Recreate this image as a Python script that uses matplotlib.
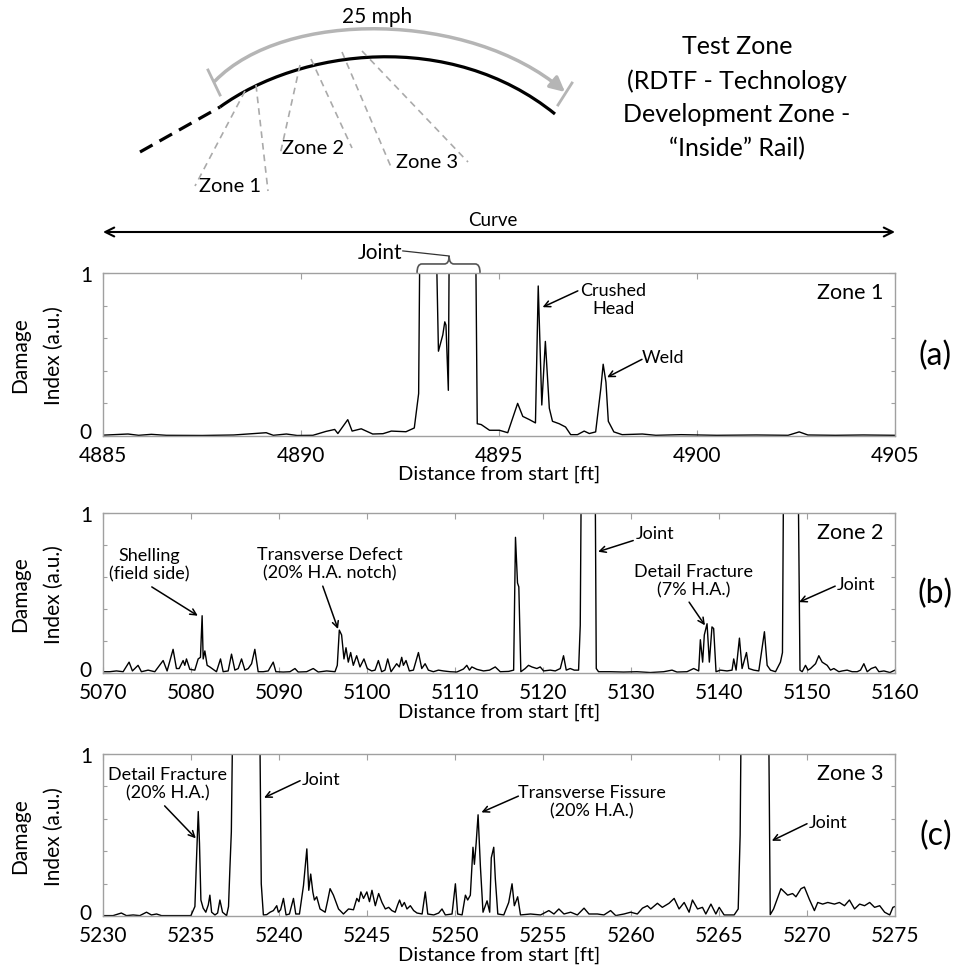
import numpy as np
import matplotlib.pyplot as plt
from matplotlib.path import Path
from matplotlib.patches import PathPatch, FancyArrowPatch
from matplotlib.transforms import blended_transform_factory, ScaledTranslation

plt.rcParams['font.family'] = ['Lato', 'DejaVu Sans']

# ---- damage index traces (1.5 = off scale at the joints) ----
z1_x = [4885.0, 4885.63, 4885.9, 4886.22, 4886.6, 4887.5, 4888.3, 4889.12, 4889.3, 4889.63,
        4889.9, 4890.3, 4890.63, 4890.85, 4890.93, 4891.18, 4891.29, 4891.52, 4891.81, 4892.07,
        4892.28, 4892.65, 4892.86, 4892.97, 4893.01, 4893.39, 4893.47, 4893.58, 4893.63, 4893.66,
        4893.72, 4893.75, 4894.40, 4894.45, 4894.55, 4894.76, 4895.01, 4895.22, 4895.47, 4895.60,
        4895.77, 4895.92, 4895.99, 4896.08, 4896.17, 4896.27, 4896.35, 4896.52, 4896.68, 4896.81,
        4896.98, 4897.15, 4897.28, 4897.44, 4897.57, 4897.63, 4897.70, 4897.76, 4897.90, 4898.11,
        4898.62, 4898.96, 4899.6, 4900.5, 4901.5, 4902.3, 4902.58, 4902.8, 4903.5, 4904.2, 4905.0]
z1_y = [0.005, 0.012, 0.004, 0.010, 0.004, 0.003, 0.006, 0.020, 0.004, 0.012,
        0.003, 0.004, 0.028, 0.040, 0.015, 0.100, 0.030, 0.044, 0.012, 0.014,
        0.030, 0.026, 0.049, 0.260, 1.5, 1.5, 0.520, 0.620, 0.700, 0.680,
        0.280, 1.5, 1.5, 0.075, 0.070, 0.035, 0.035, 0.020, 0.200, 0.120,
        0.100, 0.080, 0.920, 0.190, 0.580, 0.170, 0.090, 0.075, 0.055, 0.008,
        0.008, 0.030, 0.015, 0.025, 0.290, 0.440, 0.330, 0.090, 0.025, 0.008,
        0.012, 0.004, 0.008, 0.004, 0.006, 0.004, 0.025, 0.006, 0.004, 0.006, 0.004]

z2_x = [5070.0, 5070.76, 5071.52, 5072.28, 5072.96, 5073.34, 5073.98, 5074.36, 5075.12, 5075.88,
        5076.83, 5077.28, 5077.96, 5078.34, 5078.65, 5079.10, 5079.29, 5079.48, 5079.86, 5080.43,
        5080.81, 5081.07, 5081.26, 5081.38, 5081.57, 5081.83, 5082.13, 5082.51, 5082.89, 5083.35,
        5083.65, 5084.22, 5084.60, 5084.98, 5085.36, 5085.74, 5086.12, 5086.50, 5086.88, 5087.25,
        5087.63, 5088.20, 5088.77, 5089.34, 5089.64, 5090.48, 5091.24, 5091.81, 5092.18, 5093.13,
        5093.89, 5094.46, 5095.41, 5096.36, 5096.62, 5096.85, 5097.11, 5097.38, 5097.61, 5097.87,
        5098.14, 5098.44, 5098.82, 5099.20, 5099.65, 5100.03, 5100.53, 5100.91, 5101.29, 5101.66,
        5102.04, 5102.35, 5102.73, 5103.37, 5103.67, 5103.94, 5104.13, 5104.43, 5104.81, 5105.27,
        5105.84, 5106.22, 5106.60, 5106.97, 5107.54, 5108.11, 5108.68, 5109.44, 5110.20, 5110.96,
        5111.34, 5111.64, 5111.91, 5112.48, 5113.24, 5113.92, 5114.57, 5115.14, 5116.09, 5116.66,
        5116.87, 5117.10, 5117.25, 5117.48, 5117.97, 5118.35, 5118.73, 5119.30, 5119.68, 5120.06,
        5120.82, 5121.39, 5121.96, 5122.33, 5122.64, 5123.09, 5123.55, 5124.04, 5124.23, 5124.38,
        5125.90, 5126.05, 5126.31, 5127.64, 5129.16, 5130.67, 5132.19, 5133.71, 5134.66, 5135.22,
        5136.36, 5137.12, 5137.69, 5137.88, 5138.14, 5138.33, 5138.64, 5138.90, 5139.20, 5139.39,
        5139.66, 5140.15, 5140.91, 5141.48, 5141.67, 5141.94, 5142.32, 5142.62, 5143.12, 5143.38,
        5143.95, 5144.52, 5145.16, 5145.47, 5145.85, 5146.42, 5146.98, 5147.21, 5147.36, 5148.95,
        5149.20, 5149.45, 5149.83, 5150.10, 5150.40, 5150.97, 5151.34, 5151.72, 5152.29, 5152.67,
        5153.05, 5153.62, 5154.00, 5154.56, 5155.13, 5155.70, 5156.08, 5156.46, 5156.84, 5157.30,
        5157.79, 5158.17, 5158.74, 5159.42, 5160.0]
z2_y = [0.010, 0.010, 0.015, 0.010, 0.070, 0.015, 0.050, 0.010, 0.020, 0.010,
        0.080, 0.015, 0.150, 0.030, 0.030, 0.080, 0.050, 0.090, 0.025, 0.020,
        0.090, 0.100, 0.360, 0.090, 0.140, 0.050, 0.040, 0.025, 0.010, 0.090,
        0.010, 0.015, 0.120, 0.020, 0.030, 0.090, 0.020, 0.030, 0.060, 0.150,
        0.010, 0.010, 0.015, 0.070, 0.010, 0.008, 0.010, 0.030, 0.008, 0.010,
        0.030, 0.008, 0.015, 0.010, 0.050, 0.270, 0.240, 0.090, 0.160, 0.070,
        0.130, 0.050, 0.110, 0.040, 0.090, 0.030, 0.015, 0.020, 0.080, 0.010,
        0.020, 0.090, 0.010, 0.060, 0.040, 0.100, 0.050, 0.080, 0.015, 0.020,
        0.130, 0.030, 0.060, 0.020, 0.010, 0.020, 0.015, 0.010, 0.008, 0.027,
        0.050, 0.020, 0.040, 0.025, 0.015, 0.020, 0.040, 0.010, 0.012, 0.020,
        0.850, 0.565, 0.540, 0.010, 0.030, 0.050, 0.040, 0.030, 0.040, 0.015,
        0.020, 0.015, 0.030, 0.110, 0.020, 0.030, 0.020, 0.020, 0.300, 1.5,
        1.5, 0.030, 0.010, 0.010, 0.008, 0.010, 0.005, 0.010, 0.020, 0.008,
        0.010, 0.030, 0.015, 0.210, 0.070, 0.240, 0.310, 0.070, 0.290, 0.280,
        0.010, 0.020, 0.015, 0.020, 0.090, 0.020, 0.220, 0.030, 0.130, 0.030,
        0.020, 0.015, 0.260, 0.050, 0.020, 0.010, 0.070, 0.130, 1.5, 1.5,
        0.020, 0.010, 0.050, 0.020, 0.030, 0.060, 0.110, 0.070, 0.050, 0.020,
        0.030, 0.010, 0.015, 0.020, 0.010, 0.010, 0.020, 0.060, 0.010, 0.030,
        0.040, 0.010, 0.015, 0.005, 0.020]

z3_x = [5230.0, 5230.57, 5231.04, 5231.33, 5231.71, 5232.09, 5232.47, 5232.75, 5233.04, 5233.32,
        5233.80, 5234.36, 5234.99, 5235.22, 5235.31, 5235.41, 5235.48, 5235.56, 5235.69, 5235.84,
        5235.98, 5236.07, 5236.17, 5236.36, 5236.51, 5236.64, 5236.79, 5237.02, 5237.13, 5237.21,
        5237.29, 5237.40, 5238.88, 5238.99, 5239.11, 5239.30, 5239.49, 5239.68, 5239.87, 5239.96,
        5240.09, 5240.25, 5240.40, 5240.59, 5240.82, 5240.95, 5241.16, 5241.39, 5241.58, 5241.69,
        5241.80, 5241.92, 5242.01, 5242.14, 5242.33, 5242.62, 5242.77, 5242.90, 5243.09, 5243.38,
        5243.66, 5243.95, 5244.23, 5244.42, 5244.54, 5244.65, 5244.80, 5244.99, 5245.14, 5245.28,
        5245.47, 5245.66, 5245.85, 5246.04, 5246.23, 5246.41, 5246.60, 5246.74, 5246.85, 5246.98,
        5247.12, 5247.27, 5247.46, 5247.65, 5247.84, 5248.13, 5248.31, 5248.45, 5248.79, 5249.07,
        5249.26, 5249.45, 5249.83, 5250.02, 5250.15, 5250.40, 5250.59, 5250.72, 5250.87, 5251.02,
        5251.10, 5251.20, 5251.31, 5251.44, 5251.59, 5251.82, 5251.97, 5252.06, 5252.20, 5252.29,
        5252.43, 5252.77, 5253.05, 5253.24, 5253.37, 5253.56, 5253.72, 5254.29, 5254.86, 5255.33,
        5255.62, 5255.90, 5256.19, 5256.57, 5256.95, 5257.33, 5257.61, 5258.09, 5258.46, 5258.84,
        5259.13, 5259.60, 5259.98, 5260.36, 5260.65, 5260.93, 5261.12, 5261.50, 5261.78, 5262.16,
        5262.45, 5262.73, 5263.02, 5263.30, 5263.49, 5263.78, 5264.06, 5264.25, 5264.54, 5264.82,
        5265.01, 5265.29, 5265.86, 5266.09, 5266.20, 5266.28, 5267.80, 5267.91, 5268.10, 5268.52,
        5268.90, 5269.18, 5269.37, 5269.66, 5269.85, 5270.13, 5270.42, 5270.61, 5270.89, 5271.18,
        5271.56, 5271.84, 5272.13, 5272.41, 5272.70, 5272.99, 5273.27, 5273.56, 5273.84, 5274.13,
        5274.41, 5274.70, 5274.88, 5275.0]
z3_y = [0.004, 0.004, 0.020, 0.004, 0.008, 0.004, 0.025, 0.008, 0.014, 0.004,
        0.004, 0.004, 0.004, 0.060, 0.350, 0.645, 0.450, 0.100, 0.050, 0.025,
        0.070, 0.130, 0.025, 0.008, 0.020, 0.100, 0.025, 0.004, 0.060, 0.300,
        0.520, 1.5, 1.5, 0.200, 0.008, 0.010, 0.025, 0.035, 0.065, 0.025,
        0.040, 0.110, 0.008, 0.014, 0.110, 0.014, 0.014, 0.190, 0.415, 0.160,
        0.260, 0.150, 0.100, 0.120, 0.045, 0.025, 0.100, 0.170, 0.130, 0.045,
        0.014, 0.045, 0.040, 0.110, 0.090, 0.150, 0.110, 0.150, 0.090, 0.160,
        0.065, 0.140, 0.085, 0.045, 0.055, 0.035, 0.025, 0.070, 0.100, 0.060,
        0.085, 0.045, 0.065, 0.035, 0.020, 0.014, 0.150, 0.014, 0.008, 0.020,
        0.045, 0.008, 0.014, 0.200, 0.014, 0.008, 0.130, 0.100, 0.130, 0.425,
        0.320, 0.450, 0.625, 0.310, 0.025, 0.095, 0.025, 0.360, 0.425, 0.230,
        0.014, 0.008, 0.085, 0.200, 0.065, 0.120, 0.008, 0.014, 0.008, 0.035,
        0.014, 0.045, 0.014, 0.025, 0.008, 0.050, 0.014, 0.014, 0.008, 0.035,
        0.004, 0.014, 0.025, 0.014, 0.050, 0.065, 0.045, 0.080, 0.055, 0.080,
        0.110, 0.045, 0.085, 0.025, 0.100, 0.045, 0.055, 0.014, 0.075, 0.014,
        0.055, 0.008, 0.008, 0.045, 0.500, 1.5, 1.5, 0.010, 0.045, 0.170,
        0.130, 0.140, 0.120, 0.170, 0.180, 0.105, 0.035, 0.085, 0.075, 0.085,
        0.075, 0.085, 0.065, 0.100, 0.045, 0.075, 0.065, 0.085, 0.055, 0.065,
        0.025, 0.008, 0.055, 0.060]

z1_ticks = [4885, 4890, 4895, 4900, 4905]
z2_ticks = [5070, 5080, 5090, 5100, 5110, 5120, 5130, 5140, 5150, 5160]
z3_ticks = [5230, 5235, 5240, 5245, 5250, 5255, 5260, 5265, 5270, 5275]

# (text, text position, arrow start, arrow tip) per panel, in data units
z1_notes = [("Crushed\nHead", (4897.88, 0.84), (4896.99, 0.89), (4896.10, 0.79)),
            ("Weld", (4899.14, 0.485), (4898.61, 0.47), (4897.73, 0.36))]
z2_notes = [("Shelling\n(field side)", (5075.3, 0.68), (5075.54, 0.54), (5080.77, 0.36)),
            ("Transverse Defect\n(20% H.A. notch)", (5095.8, 0.69), (5094.97, 0.545), (5096.7, 0.277)),
            ("Joint", (5132.7, 0.88), (5130.25, 0.83), (5126.26, 0.76)),
            ("Detail Fracture\n(7% H.A.)", (5137.1, 0.58), (5136.6, 0.445), (5138.4, 0.30)),
            ("Joint", (5155.6, 0.558), (5153.2, 0.545), (5149.1, 0.445))]
z3_notes = [("Detail Fracture\n(20% H.A.)", (5233.66, 0.82), (5233.5, 0.68), (5235.27, 0.48)),
            ("Joint", (5242.38, 0.846), (5241.2, 0.835), (5239.15, 0.73)),
            ("Transverse Fissure\n(20% H.A.)", (5257.8, 0.71), (5253.6, 0.74), (5251.5, 0.64)),
            ("Joint", (5271.17, 0.583), (5270.0, 0.57), (5268.0, 0.465))]

fig = plt.figure(figsize=(9.63, 9.78), dpi=100)

# drawing layer in pixel units for the track sketch and the curve arrow
ov = fig.add_axes([0, 0, 1, 1])
ov.set_xlim(0, 963)
ov.set_ylim(978, 0)
ov.axis('off')

track = Path([(220, 108), (300, 50), (450, 30), (555, 115)],
             [Path.MOVETO, Path.CURVE4, Path.CURVE4, Path.CURVE4])
ov.add_patch(PathPatch(track, fill=False, ec='black', lw=2.3))
ov.plot([140, 220], [153, 108], color='black', lw=2.3, dashes=(4.5, 2.5))

speed = Path([(215, 82), (285, 10), (470, 12), (565, 93)],
             [Path.MOVETO, Path.CURVE4, Path.CURVE4, Path.CURVE4])
ov.add_patch(FancyArrowPatch(path=speed, arrowstyle='-|>', mutation_scale=22,
                             color='#b5b5b5', lw=2.5))
ov.plot([208, 220], [71, 96], color='#b5b5b5', lw=2)
ov.plot([558, 572], [106, 84], color='#b5b5b5', lw=2)
ov.text(377, 17, '25 mph', ha='center', va='center', fontsize=15)

zone_lines = [((245, 92), (195, 187)), ((256, 86), (268, 192)),
              ((300, 66), (280, 156)), ((311, 60), (352, 149)),
              ((342, 53), (391, 168)), ((362, 52), (468, 163))]
for (x0, y0), (x1, y1) in zone_lines:
    ov.plot([x0, x1], [y0, y1], color='#aaaaaa', lw=1.2, dashes=(4, 3))
ov.text(230, 186, 'Zone 1', ha='center', va='center', fontsize=14.5)
ov.text(313, 148, 'Zone 2', ha='center', va='center', fontsize=14.5)
ov.text(427, 162, 'Zone 3', ha='center', va='center', fontsize=14.5)

for i, line in enumerate(['Test Zone', '(RDTF - Technology', 'Development Zone -',
                          '\u201cInside\u201d Rail)']):
    ov.text(737, 47 + 34 * i, line, ha='center', va='center', fontsize=18)

ov.annotate('', xy=(895, 233), xytext=(103, 233),
            arrowprops=dict(arrowstyle='<->', lw=1.5, color='black',
                            shrinkA=0, shrinkB=0, mutation_scale=16))
ov.text(493, 221, 'Curve', ha='center', va='center', fontsize=13.5)


def panel(rect, xs, ys, ticks, notes, zone, tag):
    ax = fig.add_axes(rect)
    ax.plot(xs, ys, color='black', lw=1.0)
    ax.set_xlim(ticks[0], ticks[-1])
    ax.set_ylim(0, 1)
    ax.set_xticks(ticks)
    ax.set_yticks([0, 1])
    ax.set_yticks([0.2, 0.4, 0.6, 0.8], minor=True)
    ax.set_yticklabels(['0', '1'])
    for s in ax.spines.values():
        s.set_color('#a0a0a0')
        s.set_linewidth(1.0)
    ax.tick_params(which='both', direction='in', top=True, right=True,
                   color='#a0a0a0', width=0.8, labelsize=15)
    ax.tick_params(axis='x', pad=6.5)
    ax.tick_params(axis='y', pad=8)
    ax.tick_params(which='major', length=4)
    ax.tick_params(which='minor', length=3)
    # lift the "0" a little so it clears the first distance label
    zero = ax.yaxis.get_major_ticks()[0].label1
    zero.set_transform(zero.get_transform() + ScaledTranslation(0, 4 / 72, fig.dpi_scale_trans))
    ax.set_xlabel('Distance from start [ft]', fontsize=14.5, labelpad=0)
    ax.text(-0.105, 0.5, 'Damage', rotation=90, ha='center', va='center',
            transform=ax.transAxes, fontsize=15)
    ax.text(-0.062, 0.5, 'Index (a.u.)', rotation=90, ha='center', va='center',
            transform=ax.transAxes, fontsize=15)
    ax.text(0.985, 0.885, zone, ha='right', va='center', transform=ax.transAxes, fontsize=15.5)
    ax.text(1.051, 0.5, tag, ha='center', va='center', transform=ax.transAxes, fontsize=23)
    for txt, pos, start, tip in notes:
        ax.text(pos[0], pos[1], txt, ha='center', va='center', fontsize=13)
        ax.annotate('', xy=tip, xytext=start,
                    arrowprops=dict(arrowstyle='->', lw=1.1, color='black',
                                    shrinkA=0, shrinkB=0, mutation_scale=11))
    return ax


ax_a = panel([0.107, 0.5532, 0.8224, 0.1667], z1_x, z1_y, z1_ticks, z1_notes, 'Zone 1', '(a)')
ax_b = panel([0.107, 0.3105, 0.8224, 0.1636], z2_x, z2_y, z2_ticks, z2_notes, 'Zone 2', '(b)')
ax_c = panel([0.107, 0.0621, 0.8224, 0.1660], z3_x, z3_y, z3_ticks, z3_notes, 'Zone 3', '(c)')

# curly brace over the joint in zone 1
x0, xm, x1 = 4892.93, 4893.74, 4894.52
d = 0.12
brace = Path([(x0, 1.0), (x0, 1.055), (x0 + d, 1.055), (xm - d, 1.055),
              (xm, 1.055), (xm, 1.104), (xm, 1.055), (xm + d, 1.055),
              (x1 - d, 1.055), (x1, 1.055), (x1, 1.0)],
             [Path.MOVETO, Path.CURVE3, Path.CURVE3, Path.LINETO,
              Path.CURVE3, Path.CURVE3, Path.CURVE3, Path.CURVE3,
              Path.LINETO, Path.CURVE3, Path.CURVE3])
bt = blended_transform_factory(ax_a.transData, ax_a.transAxes)
ax_a.add_patch(PathPatch(brace, fill=False, ec='#555555', lw=1.2,
                         transform=bt, clip_on=False))
ax_a.plot([4892.57, xm], [1.135, 1.104], color='#333333', lw=0.9,
          transform=bt, clip_on=False)
ax_a.text(4892.55, 1.13, 'Joint', ha='right', va='center', transform=bt, fontsize=15)

fig.savefig('out.png', dpi=100)
